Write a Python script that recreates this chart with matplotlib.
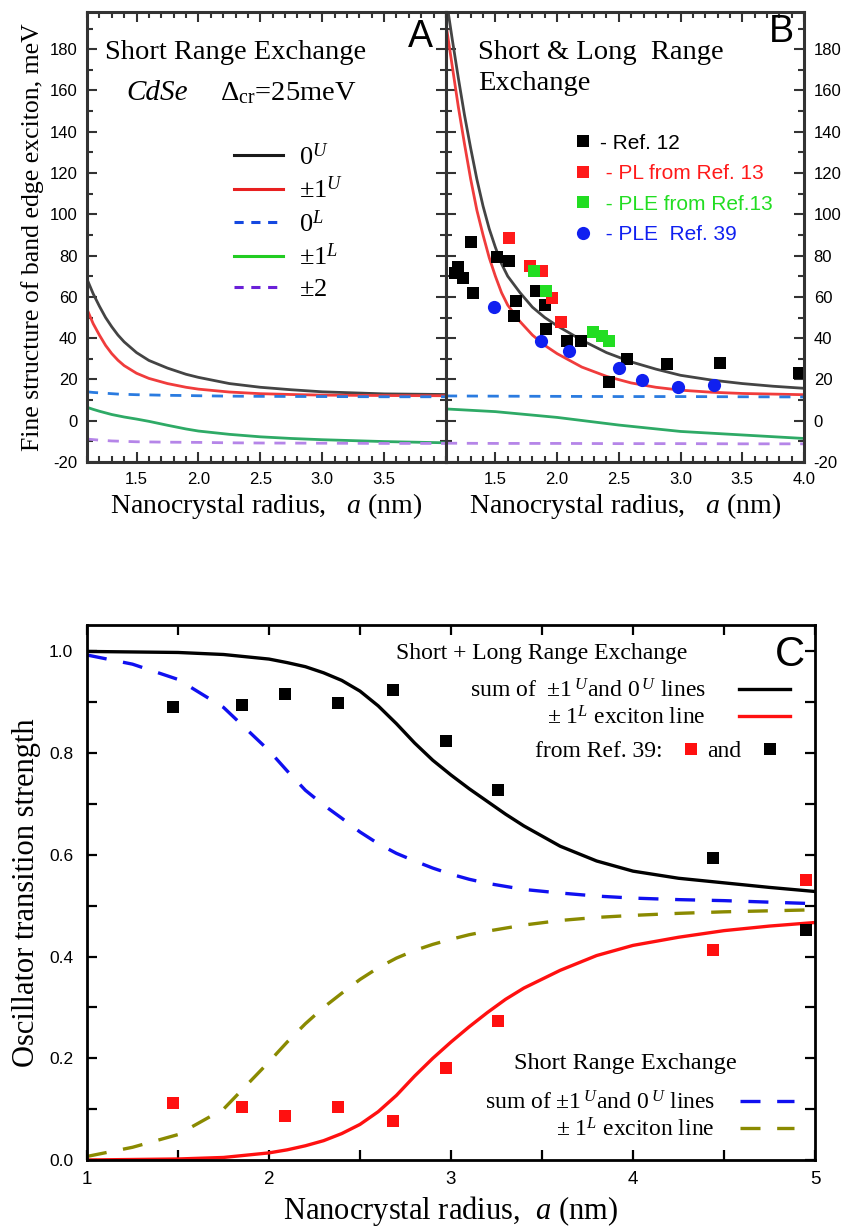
import matplotlib
matplotlib.use("Agg")
import matplotlib.pyplot as plt
from matplotlib.lines import Line2D
from matplotlib.ticker import MultipleLocator, FormatStrFormatter

SERIF = "Liberation Serif"
SANS = "Liberation Sans"
plt.rcParams["font.family"] = SANS
plt.rcParams["axes.unicode_minus"] = False
plt.rcParams["mathtext.fontset"] = "custom"
plt.rcParams["mathtext.rm"] = SERIF
plt.rcParams["mathtext.it"] = SERIF + ":italic"
plt.rcParams["mathtext.bf"] = SERIF + ":bold"

# ---- panel A: short range exchange (meV vs radius, nm)
a_x = [1.1, 1.15, 1.2, 1.25, 1.3, 1.35, 1.4, 1.5, 1.6, 1.75, 1.9, 2.0, 2.25, 2.5,
       2.75, 3.0, 3.5, 4.0]
a_0U = [68.6, 61.5, 55.5, 50, 45.5, 41.5, 38.2, 33, 29.2, 25.5, 22.5, 21, 18, 16.2,
        15, 14, 13, 12.7]
a_1U = [54, 47, 41.5, 36.5, 32.5, 29.3, 26.7, 23, 20.5, 18, 16.2, 15.3, 13.9, 13.1,
        12.7, 12.4, 12.2, 12.1]
a_0L = [14, 13.7, 13.5, 13.3, 13.1, 12.9, 12.8, 12.6, 12.5, 12.3, 12.2, 12.1, 11.9,
        11.8, 11.75, 11.7, 11.6, 11.6]
a_1L = [6.5, 5.5, 4.6, 3.8, 3.0, 2.4, 1.8, 0.8, -0.3, -2.2, -4.0, -5.0, -6.6, -7.8,
        -8.6, -9.2, -10.1, -10.7]
a_2x = [1.1, 1.2, 1.3, 1.4, 1.5, 1.75, 2.0, 2.25, 2.5, 3.0, 3.5, 4.0]
a_2 = [-8.9, -9.4, -9.8, -10.0, -10.2, -10.4, -10.5, -10.7, -10.8, -10.9, -11.0, -11.0]

# ---- panel B: short & long range exchange
b_x = [1.1, 1.15, 1.2, 1.25, 1.3, 1.35, 1.4, 1.45, 1.5, 1.55, 1.6, 1.7, 1.8, 1.9,
       2.0, 2.2, 2.4, 2.6, 2.8, 3.0, 3.25, 3.5, 3.75, 4.0]
b_0U = [205, 185, 166, 148, 132, 117, 104, 93, 84, 76, 70, 62, 55, 50, 46, 39, 33,
        28.5, 25, 22, 19.7, 18, 16.7, 15.7]
b_1U = [192, 172, 152, 134, 117, 102, 90, 79, 70, 62, 56, 48, 41.5, 36.5, 32.5, 26,
        21.5, 18.3, 16.2, 14.8, 13.8, 13.2, 12.9, 12.6]
b_fx = [1.1, 1.5, 2.0, 2.5, 3.0, 3.5, 4.0]
b_0L = [12.0, 11.9, 11.8, 11.7, 11.7, 11.6, 11.5]
b_1L = [5.7, 4.4, 1.6, -2.1, -5.2, -6.9, -8.6]
b_2 = [-10.9, -11.0, -11.0, -11.1, -11.1, -11.2, -11.2]

ref12_x = [1.175, 1.2, 1.24, 1.30, 1.32, 1.51, 1.61, 1.67, 1.65, 1.83, 1.90, 1.91,
           2.08, 2.19, 2.57, 2.42, 2.89, 3.32, 3.96]
ref12_y = [71.6, 74.3, 69.3, 86.4, 61.7, 79.2, 77.5, 58, 50.6, 62.8, 56, 44.3,
           38.6, 38.4, 30, 18.9, 27.6, 27.8, 23.1]
pl13_x = [1.61, 1.78, 1.88, 1.96, 2.03]
pl13_y = [88.4, 75.1, 72.7, 59.3, 48]
ple13_x = [1.81, 1.91, 2.29, 2.36, 2.42]
ple13_y = [72.4, 63, 43.1, 41.2, 38.4]
ple39_x = [1.49, 1.87, 2.10, 2.50, 2.69, 2.98, 3.27]
ple39_y = [55.1, 38.8, 33.6, 25.5, 19.7, 16.5, 17.3]

# ---- panel C: oscillator transition strength
c_x = [1.0, 1.25, 1.5, 1.75, 2.0, 2.1, 2.2, 2.3, 2.4, 2.5, 2.6, 2.7, 2.8, 2.9, 3.0,
       3.1, 3.2, 3.3, 3.4, 3.6, 3.8, 4.0, 4.25, 4.5, 4.75, 5.0]
c_sum_lr = [1.0, 0.999, 0.998, 0.994, 0.985, 0.978, 0.97, 0.958, 0.943, 0.922, 0.893,
            0.858, 0.82, 0.786, 0.757, 0.73, 0.705, 0.68, 0.657, 0.617, 0.588, 0.568,
            0.554, 0.545, 0.536, 0.528]
c_1L_lr = [0.0, 0.001, 0.002, 0.005, 0.014, 0.02, 0.028, 0.038, 0.052, 0.07, 0.095,
           0.127, 0.165, 0.2, 0.232, 0.262, 0.29, 0.316, 0.338, 0.373, 0.402, 0.422,
           0.438, 0.451, 0.46, 0.467]
c_sum_sr = [0.993, 0.975, 0.945, 0.89, 0.805, 0.765, 0.727, 0.698, 0.672, 0.645, 0.622,
            0.603, 0.588, 0.574, 0.562, 0.552, 0.544, 0.538, 0.532, 0.525, 0.519, 0.515,
            0.512, 0.51, 0.507, 0.504]
c_1L_sr = [0.007, 0.025, 0.05, 0.10, 0.193, 0.232, 0.268, 0.3, 0.328, 0.355, 0.378,
           0.397, 0.412, 0.424, 0.434, 0.443, 0.45, 0.456, 0.462, 0.471, 0.477, 0.481,
           0.485, 0.488, 0.49, 0.492]
r39_x = [1.47, 1.85, 2.09, 2.38, 2.68, 2.97, 3.26, 4.44, 4.95]
r39_black = [0.891, 0.894, 0.917, 0.898, 0.924, 0.824, 0.727, 0.593, 0.453]
r39_red = [0.112, 0.104, 0.087, 0.104, 0.076, 0.18, 0.273, 0.412, 0.55]

W, H = 842, 1226
fig = plt.figure(figsize=(W / 100, H / 100), dpi=100)
axA = fig.add_axes([87 / W, 1 - 462 / H, (446 - 87) / W, 450 / H])
axB = fig.add_axes([446 / W, 1 - 462 / H, (804 - 446) / W, 450 / H])
axC = fig.add_axes([87 / W, 1 - 1160 / H, (815 - 87) / W, 535 / H])

FRAME = "#333333"
GRAY, RED, BLUE, GREEN, PURPLE = "#444444", "#f03c3c", "#2a7be0", "#2eaa66", "#b585e8"
LW = 2.0

for ax in (axA, axB):
    ax.set_xlim(1.1, 4.0)
    ax.set_ylim(-20, 198)
    ax.xaxis.set_major_locator(MultipleLocator(0.5))
    ax.xaxis.set_minor_locator(MultipleLocator(0.1))
    ax.yaxis.set_major_locator(MultipleLocator(20))
    ax.yaxis.set_minor_locator(MultipleLocator(10))
    ax.tick_params(which="both", direction="in", top=True, right=True, left=True,
                   color=FRAME, width=1.5, labelsize=12, pad=7)
    ax.tick_params(which="major", length=7)
    ax.tick_params(which="minor", length=4)
    for s in ax.spines.values():
        s.set_color(FRAME)
        s.set_linewidth(2.2)
    ax.set_xlabel(r"Nanocrystal radius,   $a$ (nm)", family=SERIF, fontsize=20, labelpad=3)

axA.set_xticks([1.5, 2.0, 2.5, 3.0, 3.5])
axB.yaxis.tick_right()
axB.tick_params(which="both", left=True, right=True, labelleft=False, labelright=True)
axA.set_ylabel("Fine structure of band edge exciton, meV", family=SERIF, fontsize=18.5,
               labelpad=4)

# panel A curves
axA.plot(a_x, a_0U, color=GRAY, lw=LW)
axA.plot(a_x, a_1U, color=RED, lw=LW)
axA.plot(a_x, a_0L, color=BLUE, lw=LW, dashes=(4, 3.5))
axA.plot(a_x, a_1L, color=GREEN, lw=LW)
axA.plot(a_2x, a_2, color=PURPLE, lw=LW, dashes=(4, 3.5))

handles = [Line2D([], [], color="#1a1a1a", lw=2.2),
           Line2D([], [], color="#e82020", lw=2.2),
           Line2D([], [], color="#1448e0", lw=2.2, dashes=(3, 2.5)),
           Line2D([], [], color="#22cc22", lw=2.2),
           Line2D([], [], color="#6a20d8", lw=2.2, dashes=(3, 2.5))]
labels = [r"$0^{U}$", r"$\pm1^{U}$", r"$0^{L}$", r"$\pm1^{L}$", r"$\pm2$"]
axA.legend(handles, labels, loc="center left", bbox_to_anchor=(0.41, 0.533),
           frameon=False, fontsize=19, handlelength=1.85, handletextpad=0.6,
           labelspacing=0.27, borderpad=0, borderaxespad=0)

axA.text(0.05, 0.909, "Short Range Exchange", transform=axA.transAxes, family=SERIF,
         fontsize=20.5, va="center")
axA.text(0.111, 0.82, "CdSe", transform=axA.transAxes, family=SERIF, style="italic",
         fontsize=21, va="center")
axA.text(0.37, 0.82, r"$\Delta_{\rm cr}$=25meV", transform=axA.transAxes, family=SERIF,
         fontsize=20.5, va="center")
axA.text(0.93, 0.945, "A", transform=axA.transAxes, fontsize=27, ha="center", va="center")

# panel B curves and data
axB.plot(b_x, b_0U, color=GRAY, lw=LW)
axB.plot(b_x, b_1U, color=RED, lw=LW)
axB.plot(b_fx, b_0L, color=BLUE, lw=LW, dashes=(4, 3.5))
axB.plot(b_fx, b_1L, color=GREEN, lw=LW)
axB.plot(b_fx, b_2, color=PURPLE, lw=LW, dashes=(4, 3.5))
h1, = axB.plot(ref12_x, ref12_y, "s", color="black", ms=8.5, mew=0)
h2, = axB.plot(pl13_x, pl13_y, "s", color="#ff1a1a", ms=8.5, mew=0)
h3, = axB.plot(ple13_x, ple13_y, "s", color="#22dd22", ms=8.5, mew=0)
h4, = axB.plot(ple39_x, ple39_y, "o", color="#1020f0", ms=9.5, mew=0)
legB = axB.legend([h1, h2, h3, h4],
                  ["- Ref. 12", " - PL from Ref. 13", " - PLE from Ref.13", " - PLE  Ref. 39"],
                  loc="center left", bbox_to_anchor=(0.36, 0.607), frameon=False,
                  fontsize=15, handlelength=0.8, handletextpad=0.4, labelspacing=0.55,
                  borderpad=0, borderaxespad=0)
for t, c in zip(legB.get_texts(), ["black", "#ff1a1a", "#22dd22", "#1020f0"]):
    t.set_color(c)
axB.text(0.089, 0.911, "Short & Long  Range", transform=axB.transAxes, family=SERIF,
         fontsize=20.5, va="center")
axB.text(0.089, 0.84, "Exchange", transform=axB.transAxes, family=SERIF,
         fontsize=20.5, va="center")
axB.text(0.936, 0.955, "B", transform=axB.transAxes, fontsize=27, ha="center", va="center")

# panel C
axC.set_xlim(1, 5)
axC.set_ylim(0, 1.052)
axC.xaxis.set_major_locator(MultipleLocator(1))
axC.xaxis.set_minor_locator(MultipleLocator(0.5))
axC.yaxis.set_major_locator(MultipleLocator(0.2))
axC.yaxis.set_minor_locator(MultipleLocator(0.1))
axC.tick_params(which="both", direction="in", top=True, right=True, length=7, width=1.6,
                labelsize=12.5)
axC.tick_params(axis="y", pad=10)
axC.tick_params(axis="x", pad=8, labelsize=13.5)
for s in axC.spines.values():
    s.set_linewidth(2.0)
axC.yaxis.set_major_formatter(FormatStrFormatter("%.1f"))

LWC = 2.4
hc1, = axC.plot(c_x, c_sum_lr, color="black", lw=LWC)
hc2, = axC.plot(c_x, c_1L_lr, color="#ff1010", lw=LWC)
hc3, = axC.plot(c_x, c_sum_sr, color="#1010f0", lw=LWC, dashes=(6, 5))
hc4, = axC.plot(c_x, c_1L_sr, color="#8a8a00", lw=LWC, dashes=(6, 5))
hs1, = axC.plot(r39_x, r39_black, "s", color="black", ms=8, mew=0)
hs2, = axC.plot(r39_x, r39_red, "s", color="#ff1010", ms=8, mew=0)

axC.set_xlabel(r"Nanocrystal radius,  $a$ (nm)", family=SERIF, fontsize=22, labelpad=4)
axC.set_ylabel("Oscillator transition strength", family=SERIF, fontsize=22, labelpad=6)

lg1 = axC.legend([hc1, hc2], [r"sum of  $\pm$1$\,^{U}$and 0$\,^{U}$ lines",
                              r"$\pm$ 1$^{L}$ exciton line"],
                 loc="center right", bbox_to_anchor=(0.965, 0.852), frameon=False,
                 markerfirst=False, prop={"family": SERIF, "size": 17},
                 handlelength=2.15, handletextpad=1.4, labelspacing=0.15,
                 borderpad=0, borderaxespad=0)
axC.add_artist(lg1)
lg2 = axC.legend([hs2, hs1], ["from Ref. 39:", "and"], ncol=2,
                 loc="center right", bbox_to_anchor=(0.948, 0.764), frameon=False,
                 markerfirst=False, prop={"family": SERIF, "size": 17},
                 handlelength=0.6, handletextpad=0.9, columnspacing=0.4,
                 borderpad=0, borderaxespad=0)
axC.add_artist(lg2)
axC.legend([hc3, hc4], [r"sum of $\pm$1$\,^{U}$and 0$\,^{U}$ lines",
                        r"$\pm$ 1$^{L}$ exciton line"],
           loc="center right", bbox_to_anchor=(0.971, 0.082), frameon=False,
           markerfirst=False, prop={"family": SERIF, "size": 17},
           handlelength=2.3, handletextpad=1.05, labelspacing=0.15,
           borderpad=0, borderaxespad=0)
axC.text(0.624, 0.946, "Short + Long Range Exchange", transform=axC.transAxes,
         family=SERIF, fontsize=17, ha="center", va="center")
axC.text(0.74, 0.181, "Short Range Exchange", transform=axC.transAxes,
         family=SERIF, fontsize=17.5, ha="center", va="center")
axC.text(0.966, 0.943, "C", transform=axC.transAxes, fontsize=30, ha="center", va="center")

fig.savefig("out.png", dpi=100)
